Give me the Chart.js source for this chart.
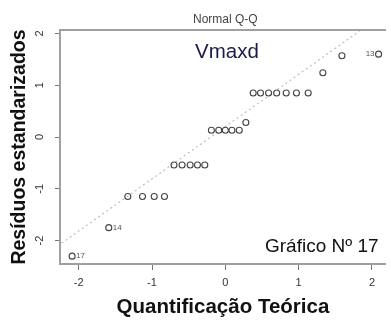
<!DOCTYPE html>
<html>
<head>
<meta charset="utf-8">
<script src="https://cdn.jsdelivr.net/npm/chart.js@4/dist/chart.umd.min.js"></script>
<style>
  html, body { margin: 0; padding: 0; background: #fff; }
  #wrap { width: 391px; height: 322px; position: relative; }
</style>
</head>
<body>
<div id="wrap"><canvas id="qq"></canvas></div>
<script>
// Theoretical normal quantiles and standardized residuals (27 observations)
const theoreticalQ = [-2.09, -1.59, -1.33, -1.13, -0.97, -0.83, -0.70, -0.59, -0.48, -0.38,
                      -0.28, -0.19, -0.09, 0.00, 0.09, 0.19, 0.28, 0.38, 0.48, 0.59,
                      0.70, 0.83, 0.97, 1.13, 1.33, 1.59, 2.09];
const residuals = [-2.30, -1.75, -1.15, -1.15, -1.15, -1.15, -0.54, -0.54, -0.54, -0.54,
                   -0.54, 0.13, 0.13, 0.13, 0.13, 0.13, 0.28, 0.85, 0.85, 0.85,
                   0.85, 0.85, 0.85, 0.85, 1.24, 1.57, 1.60];

// Observation numbers shown next to the flagged points
const flaggedIndex = [0, 1, 26];
const flaggedLabel = ['17', '14', '13'];

// Reference line end points
const refLineX = [-2.4, 2.3];
const refLineY = [-2.22, 2.52];

const yTickLabels = ['-2', '-1', '0', '1', '2'];

const FONT = "'Liberation Sans', Arial, sans-serif";
Chart.defaults.font.family = FONT;

const points = theoreticalQ.map((x, i) => ({ x: x, y: residuals[i] }));
const refLine = refLineX.map((x, i) => ({ x: x, y: refLineY[i] }));

// Draws the rotated y tick labels, top frame line and the text notes
const decorations = {
    id: 'decorations',
    afterDraw(chart) {
        const ctx = chart.ctx;
        const area = chart.chartArea;
        const xs = chart.scales.x;
        const ys = chart.scales.y;

        ctx.save();
        // top frame
        ctx.strokeStyle = '#a0a0a0';
        ctx.lineWidth = 2;
        ctx.beginPath();
        ctx.moveTo(area.left - 1, area.top);
        ctx.lineTo(area.right, area.top);
        ctx.stroke();

        // y tick labels, parallel to the axis
        ctx.fillStyle = '#333';
        ctx.font = '11px ' + FONT;
        ctx.textAlign = 'center';
        ctx.textBaseline = 'middle';
        yTickLabels.forEach(t => {
            ctx.save();
            ctx.translate(40, ys.getPixelForValue(Number(t)));
            ctx.rotate(-Math.PI / 2);
            ctx.fillText(t, 0, 0);
            ctx.restore();
        });

        // main title
        ctx.fillStyle = '#444';
        ctx.font = '12px ' + FONT;
        ctx.fillText('Normal Q-Q', xs.getPixelForValue(0), 20);

        // flagged observation numbers
        ctx.fillStyle = '#555';
        ctx.font = '8px ' + FONT;
        flaggedIndex.forEach((idx, k) => {
            const px = xs.getPixelForValue(theoreticalQ[idx]);
            const py = ys.getPixelForValue(residuals[idx]);
            if (k === 2) {
                ctx.textAlign = 'right';
                ctx.fillText(flaggedLabel[k], px - 4, py);
            } else {
                ctx.textAlign = 'left';
                ctx.fillText(flaggedLabel[k], px + 4, py);
            }
        });

        // notes inside the plot
        ctx.textAlign = 'left';
        ctx.fillStyle = '#1b1b4a';
        ctx.font = '20.5px ' + FONT;
        ctx.fillText('Vmaxd', 195, 52);

        ctx.fillStyle = '#111';
        ctx.font = '19px ' + FONT;
        ctx.fillText('Gráfico Nº 17', 265, 247);
        ctx.restore();
    }
};

new Chart(document.getElementById('qq'), {
    type: 'scatter',
    data: {
        datasets: [
            {
                data: refLine,
                showLine: true,
                borderColor: '#bdbdbd',
                borderWidth: 1.2,
                borderDash: [2, 3],
                pointRadius: 0,
                order: 2
            },
            {
                data: points,
                pointStyle: 'circle',
                pointRadius: 3,
                borderWidth: 1.1,
                borderColor: '#444',
                backgroundColor: 'rgba(0,0,0,0)',
                order: 1
            }
        ]
    },
    options: {
        responsive: true,
        maintainAspectRatio: false,
        animation: false,
        events: [],
        layout: { padding: { top: 30, left: 0, right: 0, bottom: 0 } },
        plugins: {
            legend: { display: false },
            tooltip: { enabled: false }
        },
        scales: {
            x: {
                type: 'linear',
                min: -2.255,
                max: 2.19,
                afterFit(scale) { scale.height = 58; },
                border: { display: true, color: '#a0a0a0', width: 2 },
                grid: { drawOnChartArea: false, drawTicks: true, tickLength: 6, tickWidth: 1, color: '#777' },
                ticks: {
                    stepSize: 1,
                    includeBounds: false,
                    color: '#333',
                    padding: 6,
                    font: { size: 11 },
                    maxRotation: 0
                },
                title: {
                    display: true,
                    text: 'Quantificação Teórica',
                    color: '#111',
                    font: { size: 20.5, weight: 'bold' },
                    padding: { top: 0, bottom: 2 }
                }
            },
            y: {
                type: 'linear',
                min: -2.452,
                max: 2.066,
                afterFit(scale) { scale.width = 60; },
                border: { display: true, color: '#a0a0a0', width: 2 },
                grid: { drawOnChartArea: false, drawTicks: true, tickLength: 5, tickWidth: 1, color: '#777' },
                ticks: {
                    stepSize: 1,
                    includeBounds: false,
                    display: false
                },
                title: {
                    display: true,
                    text: 'Resíduos estandarizados',
                    color: '#111',
                    font: { size: 19.5, weight: 'bold' },
                    padding: { top: 8, bottom: 0 }
                }
            }
        }
    },
    plugins: [decorations]
});
</script>
</body>
</html>
